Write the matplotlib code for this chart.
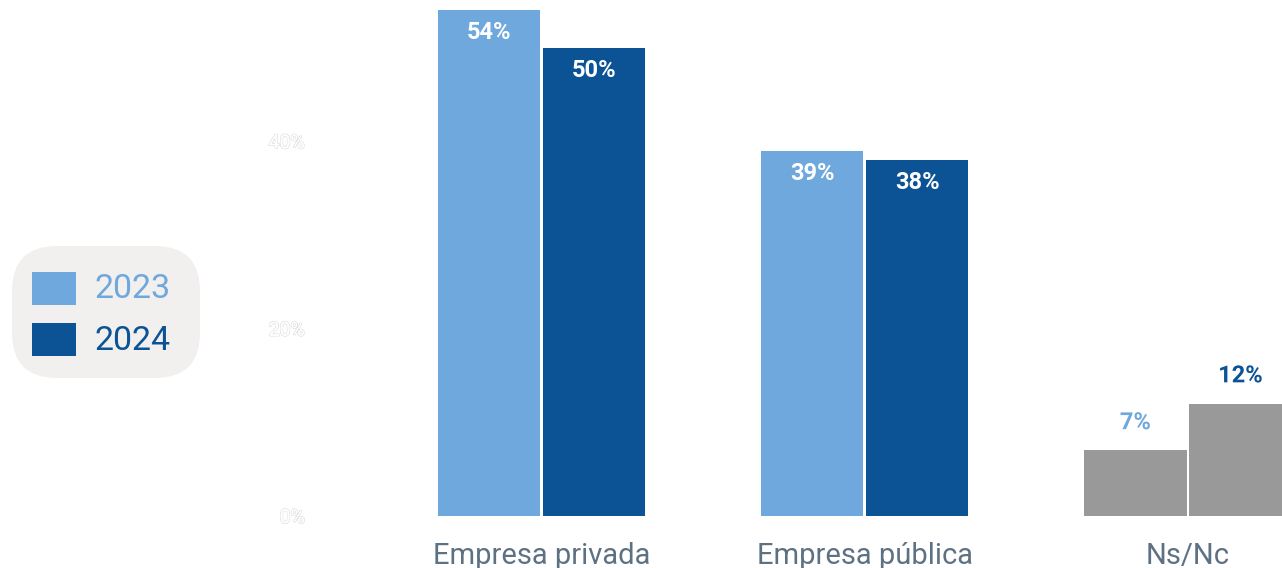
import matplotlib
matplotlib.use("Agg")
import matplotlib.pyplot as plt
import matplotlib.patheffects as pe
from matplotlib.patches import FancyBboxPatch, Rectangle
import numpy as np

plt.rcParams['font.family'] = ['Roboto', 'DejaVu Sans']

categories = ["Empresa privada", "Empresa pública", "Ns/Nc"]
series_names = ["2023", "2024"]
values_2023 = [54, 39, 7]
values_2024 = [50, 38, 12]
yticks = [0, 20, 40]
ytick_labels = ["0%", "20%", "40%"]

c2023 = "#6FA8DC"
c2024 = "#0B5394"
cgray = "#999999"
series_colors = [c2023, c2024]

W, H = 1282, 568
fig = plt.figure(figsize=(W / 100, H / 100), dpi=100)
ax_left, ax_right, ax_bottom, ax_top = 330, 1282, 516, 0
ax = fig.add_axes([ax_left / W, (H - ax_bottom) / H, (ax_right - ax_left) / W, (ax_bottom - ax_top) / H])

x = np.arange(len(categories))
width = 0.316
off = 0.1625

for i, (v23, v24) in enumerate(zip(values_2023, values_2024)):
    is_na = categories[i] == "Ns/Nc"
    for v, dx, col in ((v23, -off, c2023), (v24, off, c2024)):
        face = cgray if is_na else col
        ax.bar(x[i] + dx, v, width, color=face, linewidth=0)
        if is_na:
            ax.annotate(f"{v}%", (x[i] + dx, v), xytext=(0, 20), textcoords="offset points",
                        ha="center", va="center", color=col, fontsize=17, fontweight="bold",
                        path_effects=[pe.withStroke(linewidth=4, foreground="white")])
        else:
            ax.annotate(f"{v}%", (x[i] + dx, v), xytext=(0, -16.3), textcoords="offset points",
                        ha="center", va="center", color="white", fontsize=17, fontweight="bold")

ax.set_xlim(-0.6548, 2.291)
ax.set_ylim(0, 55.1)
ax.set_xticks(x)
ax.set_xticklabels(categories, fontsize=21, color="#5E7183")
ax.set_yticks(yticks)
ax.set_yticklabels(ytick_labels, fontsize=14, color="white")
for t in ax.get_yticklabels():
    t.set_path_effects([pe.withStroke(linewidth=1.0, foreground="#DADADA"), pe.Normal()])
ax.tick_params(axis="both", length=0)
ax.tick_params(axis="x", pad=19)
ax.tick_params(axis="y", pad=18)
for s in ax.spines.values():
    s.set_visible(False)

# Legend drawn manually
def fx(px):
    return px / W

def fy(py):
    return 1 - py / H

box = FancyBboxPatch((fx(12), fy(378)), fx(200) - fx(12), fy(246) - fy(378),
                     boxstyle="round,pad=0,rounding_size=0.035", transform=fig.transFigure,
                     facecolor="#F2F0EF", edgecolor="none", mutation_aspect=W / H)
fig.add_artist(box)
rows_y = [288, 339]
for name, col, yc in zip(series_names, series_colors, rows_y):
    fig.add_artist(Rectangle((fx(32), fy(yc + 16.5)), fx(44), 33 / H, transform=fig.transFigure,
                             facecolor=col, edgecolor="none"))
    fig.text(fx(94), fy(yc + 1.5), name, fontsize=24.5, color=col, ha="left", va="center")

fig.savefig("out.png", dpi=100)
